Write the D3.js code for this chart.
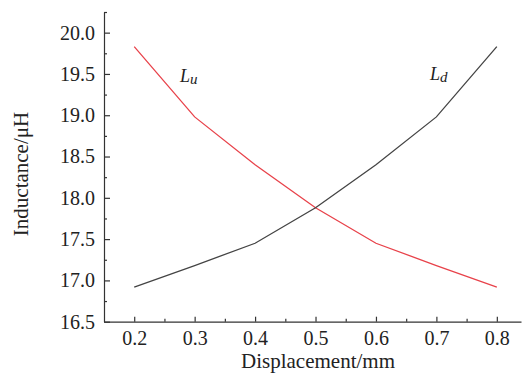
<!DOCTYPE html>
<html>
<head>
<meta charset="utf-8">
<script src="https://cdn.jsdelivr.net/npm/d3@7"></script>
<style>
  body { margin: 0; background: #fff; }
  svg text { font-family: "Liberation Serif", "Times New Roman", serif; fill: #222; }
</style>
</head>
<body>
<script>
// Data
const displacement = [0.2, 0.3, 0.4, 0.5, 0.6, 0.7, 0.8];
const inductanceLu = [19.83, 18.98, 18.40, 17.88, 17.45, 17.18, 16.92];
const inductanceLd = [16.92, 17.18, 17.45, 17.88, 18.40, 18.98, 19.83];
const xTicks = [0.2, 0.3, 0.4, 0.5, 0.6, 0.7, 0.8];
const xMinorTicks = [0.25, 0.35, 0.45, 0.55, 0.65, 0.75];
const yTicks = [16.5, 17.0, 17.5, 18.0, 18.5, 19.0, 19.5, 20.0];
const yMinorTicks = [16.75, 17.25, 17.75, 18.25, 18.75, 19.25, 19.75, 20.25];

const width = 524;
const height = 374;
const svg = d3.select("body").append("svg")
    .attr("width", width)
    .attr("height", height);

const x = d3.scaleLinear().domain([0.15, 0.84]).range([104, 521]);
const y = d3.scaleLinear().domain([16.5, 20.25]).range([321.7, 12]);

const axisColor = "#333";

// x axis, ticks pointing inward
svg.append("g")
    .attr("transform", `translate(0,${y(16.5)})`)
    .call(d3.axisBottom(x).tickValues(xTicks).tickSize(-5).tickSizeOuter(0)
        .tickPadding(9).tickFormat(d3.format(".1f")));
svg.append("g")
    .attr("transform", `translate(0,${y(16.5)})`)
    .call(d3.axisBottom(x).tickValues(xMinorTicks).tickSize(-3).tickFormat(""))
    .call(g => g.select(".domain").remove());

// y axis
svg.append("g")
    .attr("transform", `translate(${x(0.15)},0)`)
    .call(d3.axisLeft(y).tickValues(yTicks).tickSize(-6).tickSizeOuter(0)
        .tickPadding(9).tickFormat(d3.format(".1f")));
svg.append("g")
    .attr("transform", `translate(${x(0.15)},0)`)
    .call(d3.axisLeft(y).tickValues(yMinorTicks).tickSize(-3).tickFormat(""))
    .call(g => g.select(".domain").remove());

svg.selectAll(".domain, .tick line")
    .attr("stroke", axisColor)
    .attr("stroke-width", 1.2);
svg.selectAll("g").attr("font-family", null);
svg.selectAll(".tick text")
    .style("font-family", "'Liberation Serif', serif")
    .style("font-size", "20px")
    .style("fill", "#222");

// axis titles
svg.append("text")
    .attr("x", 318)
    .attr("y", 368)
    .attr("text-anchor", "middle")
    .attr("font-size", 21)
    .text("Displacement/mm");

svg.append("text")
    .attr("transform", "translate(28,174) rotate(-90)")
    .attr("text-anchor", "middle")
    .attr("font-size", 21)
    .text("Inductance/μH");

// curves
const line = d3.line()
    .x((d, i) => x(displacement[i]))
    .y(d => y(d));

svg.append("path")
    .datum(inductanceLu)
    .attr("d", line)
    .attr("fill", "none")
    .attr("stroke", "#e8424a")
    .attr("stroke-width", 1.3);

svg.append("path")
    .datum(inductanceLd)
    .attr("d", line)
    .attr("fill", "none")
    .attr("stroke", "#444")
    .attr("stroke-width", 1.3);

// curve labels
function curveLabel(px, py, sub) {
    const t = svg.append("text")
        .attr("x", px)
        .attr("y", py)
        .attr("font-style", "italic")
        .attr("font-size", 18);
    t.append("tspan").text("L");
    t.append("tspan").attr("dy", 2).attr("font-size", 15).text(sub);
}
curveLabel(180, 82, "u");
curveLabel(430, 80, "d");
</script>
</body>
</html>
